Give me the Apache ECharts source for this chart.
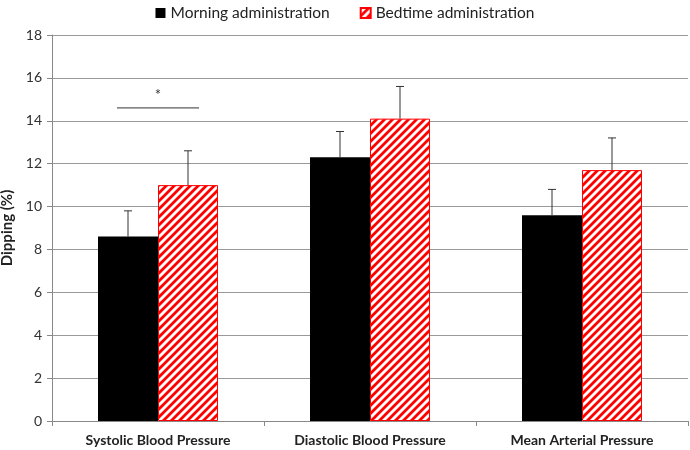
<!DOCTYPE html>
<html><head><meta charset="utf-8">
<script src="https://cdn.jsdelivr.net/npm/echarts@6/dist/echarts.min.js"></script>
<style>html,body{margin:0;padding:0;background:#fff}#c{width:690px;height:450px}</style>
</head><body><div id="c"></div>
<script>
const categories = ['Systolic Blood Pressure', 'Diastolic Blood Pressure', 'Mean Arterial Pressure'];
const morning = [8.6, 12.3, 9.6];
const morningErr = [1.2, 1.2, 1.2];
const bedtime = [11.0, 14.1, 11.7];
const bedtimeErr = [1.6, 1.5, 1.5];
const yTicks = [0, 2, 4, 6, 8, 10, 12, 14, 16, 18];
const sigCategory = 0;
const sigLevel = 14.6;
const sigLabel = '*';

function stripes() {
  const s = 8;
  const c = document.createElement('canvas');
  c.width = s; c.height = s;
  const g = c.getContext('2d');
  g.fillStyle = '#fff'; g.fillRect(0, 0, s, s);
  g.strokeStyle = '#ff0000'; g.lineWidth = 2.8;
  g.beginPath();
  for (let k = -1; k <= 1; k++) {
    g.moveTo(k * s - 1, s + 1); g.lineTo(k * s + s + 1, -1);
  }
  g.stroke();
  return c;
}
const pattern = { image: stripes(), repeat: 'repeat' };
const BW = 60;
const FONT = 'Lato';

function errSeries(vals, errs, side) {
  return {
    type: 'custom',
    silent: true,
    z: 5,
    data: vals.map((v, i) => [i, v, v + errs[i]]),
    renderItem: function (params, api) {
      const lo = api.coord([api.value(0), api.value(1)]);
      const hi = api.coord([api.value(0), api.value(2)]);
      const x = lo[0] + side * BW / 2;
      return {
        type: 'group',
        children: [
          { type: 'line', shape: { x1: x, y1: lo[1], x2: x, y2: hi[1] }, style: { stroke: '#333', lineWidth: 1 } },
          { type: 'line', shape: { x1: x - 4, y1: hi[1], x2: x + 4, y2: hi[1] }, style: { stroke: '#333', lineWidth: 1 } }
        ]
      };
    }
  };
}

const chart = echarts.init(document.getElementById('c'));
chart.setOption({
  animation: false,
  textStyle: { fontFamily: FONT },
  legend: {
    top: 0, left: 'center',
    itemWidth: 10, itemHeight: 10, itemGap: 30,
    textStyle: { fontSize: 15.5, color: '#222', fontFamily: FONT },
    data: [
      { name: 'Morning administration', icon: 'rect' },
      { name: 'Bedtime administration', icon: 'rect' }
    ]
  },
  grid: { left: 52, right: 2, top: 35, bottom: 29, containLabel: false, outerBoundsMode: 'none' },
  xAxis: {
    type: 'category',
    data: categories,
    axisLine: { lineStyle: { color: '#888' } },
    axisTick: { show: true, length: 5, alignWithLabel: false, lineStyle: { color: '#888' } },
    axisLabel: { fontSize: 14, fontWeight: 'bold', color: '#222', margin: 12, fontFamily: FONT }
  },
  yAxis: {
    type: 'value',
    min: 0, max: 18, interval: 2,
    name: 'Dipping (%)',
    nameLocation: 'middle',
    nameGap: 33,
    nameTextStyle: { fontSize: 15, fontWeight: 'bold', color: '#222', fontFamily: FONT },
    axisLine: { show: true, lineStyle: { color: '#888' } },
    axisTick: { show: true, length: 5, lineStyle: { color: '#888' } },
    axisLabel: { fontSize: 14, color: '#333', margin: 10, fontFamily: FONT,
      formatter: v => yTicks.includes(v) ? String(v) : '' },
    splitLine: { lineStyle: { color: '#999', width: 1 } }
  },
  series: [
    { name: 'Morning administration', type: 'bar', data: morning, barWidth: BW, barGap: '0%',
      itemStyle: { color: '#000' } },
    { name: 'Bedtime administration', type: 'bar', data: bedtime, barWidth: BW, barGap: '0%',
      itemStyle: { color: pattern, borderColor: '#ff0000', borderWidth: 1 } },
    errSeries(morning, morningErr, -1),
    errSeries(bedtime, bedtimeErr, 1),
    {
      type: 'custom', silent: true, z: 6,
      data: [[sigCategory, sigLevel]],
      renderItem: function (params, api) {
        const p = api.coord([api.value(0), api.value(1)]);
        return {
          type: 'group',
          children: [
            { type: 'line', shape: { x1: p[0] - 41, y1: p[1], x2: p[0] + 41, y2: p[1] }, style: { stroke: '#333', lineWidth: 1 } },
            { type: 'text', x: p[0], y: p[1] - 5, style: { text: sigLabel, fontSize: 15, fill: '#333', align: 'center', verticalAlign: 'bottom', fontFamily: FONT } }
          ]
        };
      }
    }
  ]
});
</script></body></html>
